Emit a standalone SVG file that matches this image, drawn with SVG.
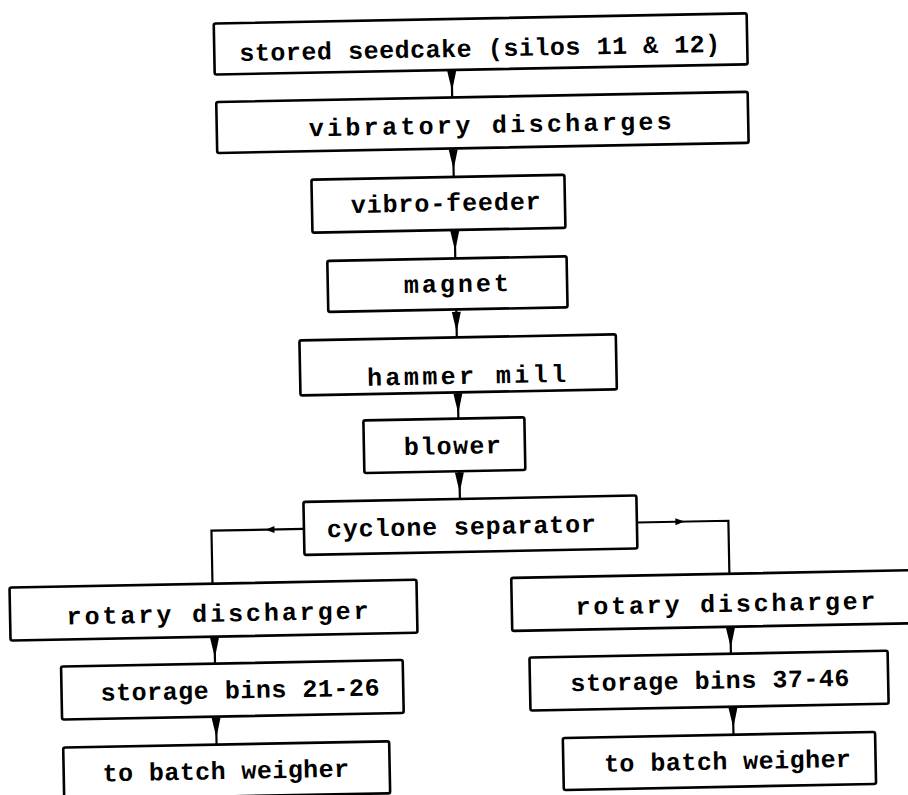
<svg xmlns="http://www.w3.org/2000/svg" xmlns:xlink="http://www.w3.org/1999/xlink" width="908" height="795" viewBox="0 0 908 795">
  <style>
    .box { fill: #ffffff; stroke: #000000; stroke-width: 2.6; stroke-linejoin: round; }
    .lbl { font-family: "Liberation Mono", "DejaVu Sans Mono", monospace; font-size: 25px; font-weight: bold; fill: #000000; }
    .wire { fill: none; stroke: #000000; stroke-width: 2.2; }
    .head { fill: #000000; stroke: none; }
  </style>
  <defs>
    <!-- downward flow arrow: base sits on the upper box, tip points down -->
    <path id="drop" d="M-4.5,0 L4.5,0 L0,20 Z"/>
  </defs>
  <rect width="908" height="795" fill="#ffffff"/>
  <g transform="rotate(-1.1 454 400)">
    <g id="connectors">
      <path class="wire" d="M458,70 V97.5 M458,148.5 V177 M458,230 V258.5 M458,309.5 V337.5 M458,392.5 V418.7 M458,471.3 V499"/>
      <path class="wire" d="M210,632 V659 M210,712 V740 M726,632 V659 M727,712 V740"/>
      <path class="wire" d="M301.5,526 H209 V579"/>
      <path class="wire" d="M634.5,526 H726 V579"/>
      <g class="head">
        <use xlink:href="#drop" x="458" y="71"/>
        <use xlink:href="#drop" x="458" y="149.5"/>
        <use xlink:href="#drop" x="458" y="231"/>
        <use xlink:href="#drop" x="458" y="312"/>
        <use xlink:href="#drop" x="458" y="393.5"/>
        <use xlink:href="#drop" x="458" y="472.5"/>
        <use xlink:href="#drop" x="210" y="633"/>
        <use xlink:href="#drop" x="210" y="713"/>
        <use xlink:href="#drop" x="726" y="633"/>
        <use xlink:href="#drop" x="727" y="713"/>
        <polygon points="263,526 272,522.5 272,529.5"/>
        <polygon points="682,526 673,522.5 673,529.5"/>
      </g>
    </g>

    <g id="stored-seedcake">
      <rect class="box" x="221" y="19" width="533" height="51" rx="2"/>
      <text class="lbl" x="246" y="57" textLength="481" lengthAdjust="spacing">stored seedcake (silos 11 &amp; 12)</text>
    </g>
    <g id="vibratory-discharges">
      <rect class="box" x="222" y="97.5" width="531.5" height="51" rx="2"/>
      <text class="lbl" x="314" y="133.5" textLength="363" lengthAdjust="spacing">vibratory discharges</text>
    </g>
    <g id="vibro-feeder">
      <rect class="box" x="315.7" y="177" width="253" height="53" rx="2"/>
      <text class="lbl" x="354.5" y="211" textLength="190" lengthAdjust="spacing">vibro-feeder</text>
    </g>
    <g id="magnet">
      <rect class="box" x="330" y="258.5" width="239.3" height="51" rx="2"/>
      <text class="lbl" x="406" y="292" textLength="105" lengthAdjust="spacing">magnet</text>
    </g>
    <g id="hammer-mill">
      <rect class="box" x="300.6" y="337.5" width="316.4" height="55" rx="2"/>
      <text class="lbl" x="367.5" y="384" textLength="199" lengthAdjust="spacing">hammer mill</text>
    </g>
    <g id="blower">
      <rect class="box" x="363" y="418.7" width="161" height="52.6" rx="2"/>
      <text class="lbl" x="403" y="454" textLength="97" lengthAdjust="spacing">blower</text>
    </g>
    <g id="cyclone-separator">
      <rect class="box" x="301.5" y="499" width="333" height="53" rx="2"/>
      <text class="lbl" x="324.5" y="534.7" textLength="269" lengthAdjust="spacing">cyclone separator</text>
    </g>

    <g id="rotary-discharger-left">
      <rect class="box" x="6" y="579" width="407" height="53" rx="2"/>
      <text class="lbl" x="62.5" y="617" textLength="302" lengthAdjust="spacing">rotary discharger</text>
    </g>
    <g id="storage-bins-21-26">
      <rect class="box" x="56" y="659" width="341.7" height="53" rx="2"/>
      <text class="lbl" x="95" y="694" textLength="279" lengthAdjust="spacing">storage bins 21-26</text>
    </g>
    <g id="batch-weigher-left">
      <rect class="box" x="56.6" y="740" width="326" height="52" rx="2"/>
      <text class="lbl" x="95.5" y="774.6" textLength="246.5" lengthAdjust="spacing">to batch weigher</text>
    </g>

    <g id="rotary-discharger-right">
      <rect class="box" x="507.8" y="579" width="420" height="53" rx="2"/>
      <text class="lbl" x="571.5" y="617" textLength="300" lengthAdjust="spacing">rotary discharger</text>
    </g>
    <g id="storage-bins-37-46">
      <rect class="box" x="524.5" y="659" width="358.2" height="53" rx="2"/>
      <text class="lbl" x="565" y="693.5" textLength="279" lengthAdjust="spacing">storage bins 37-46</text>
    </g>
    <g id="batch-weigher-right">
      <rect class="box" x="556.3" y="740" width="312.3" height="52" rx="2"/>
      <text class="lbl" x="597" y="774.5" textLength="247" lengthAdjust="spacing">to batch weigher</text>
    </g>
  </g>
</svg>
